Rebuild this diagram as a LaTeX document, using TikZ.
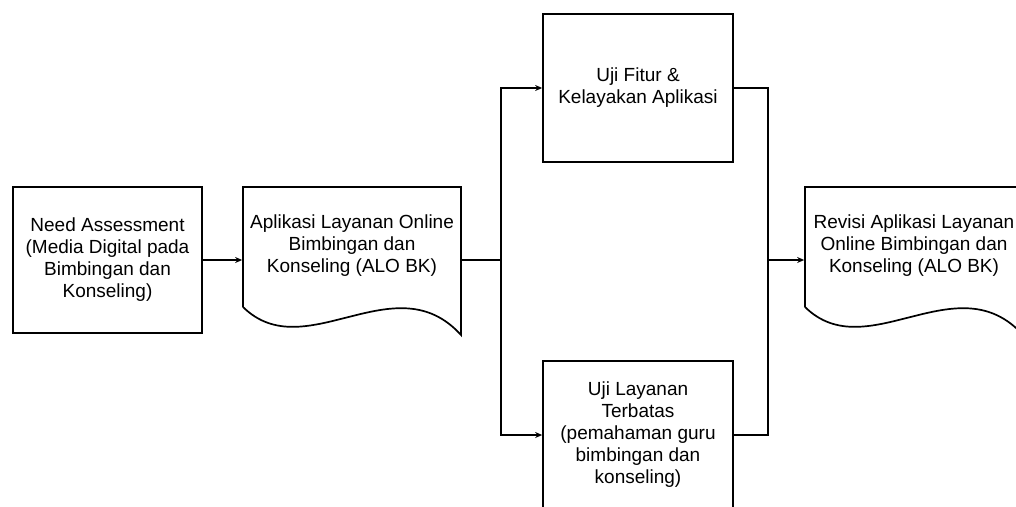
\documentclass[tikz,border=0pt]{standalone}
\usepackage{fontspec}
\setmainfont{Liberation Sans}
\usetikzlibrary{arrows.meta}
\newcommand{\diagfont}{\fontsize{19}{22}\selectfont}
\tikzset{
  flowbox/.style={draw=black, rectangle, align=center, inner sep=0pt, font=\diagfont},
  doctext/.style={align=center, inner sep=0pt, font=\diagfont},
  docarea/.style={rectangle, inner sep=0pt, minimum width=218pt, minimum height=146pt},
  docline/.style={draw=black},
  link/.style={draw=black, -{Stealth[length=7pt,width=6pt]}},
  plainlink/.style={draw=black}
}
\begin{document}
\begin{tikzpicture}[x=1pt,y=-1pt,line width=1.7pt]
\useasboundingbox (0,0) rectangle (1016,506);
\clip (0,0) rectangle (1016,506);
% process boxes
\node[flowbox, minimum width=189pt, minimum height=146pt] (need) at (107.5,260)
  {Need Assessment\\(Media Digital pada\\Bimbingan dan\\Konseling)};
\node[flowbox, minimum width=190pt, minimum height=148pt] (fitur) at (638,88)
  {Uji Fitur \&\\Kelayakan Aplikasi};
\node[flowbox, minimum width=190pt, minimum height=148pt] (terbatas) at (638,435)
  {Uji Layanan\\Terbatas\\(pemahaman guru\\bimbingan dan\\konseling)};
% document shapes
\node[docarea] (alo) at (352,260) {};
\draw[docline] (243,307) -- (243,187) -- (461,187) -- (461,335)
  .. controls (395,262) and (305,368) .. (243,307);
\node[doctext] (alotxt) at (352,246) {Aplikasi Layanan Online\\Bimbingan dan\\Konseling (ALO BK)};
\node[docarea] (revisi) at (914,260) {};
\draw[docline] (805,307) -- (805,187) -- (1023,187) -- (1023,335)
  .. controls (957,262) and (867,368) .. (805,307);
\node[doctext] (revisitxt) at (914,246) {Revisi Aplikasi Layanan\\Online Bimbingan dan\\Konseling (ALO BK)};
% junctions
\coordinate (split) at (501,260);
\coordinate (join) at (768,260);
% connectors
\draw[link] (need.east) -- (alo.west);
\draw[plainlink] (alo.east) -- (split);
\draw[link] (split) |- (fitur.west);
\draw[link] (split) |- (terbatas.west);
\draw[plainlink] (fitur.east) -| (join);
\draw[plainlink] (terbatas.east) -| (join);
\draw[link] (join) -- (revisi.west);
\end{tikzpicture}
\end{document}
